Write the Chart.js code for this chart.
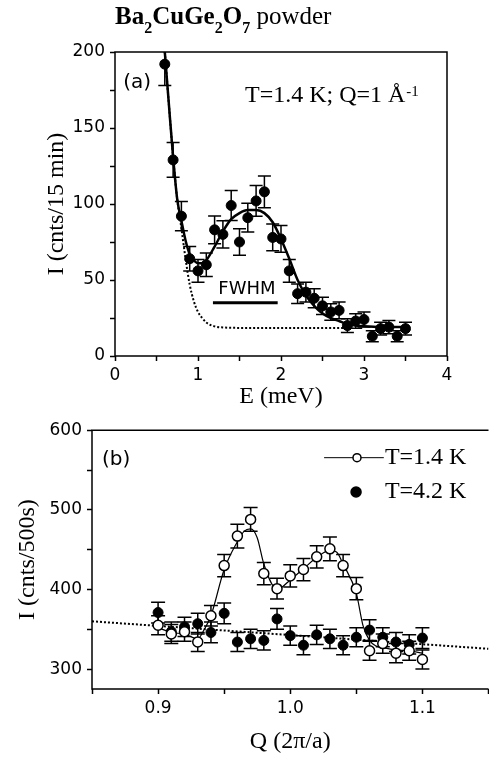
<!DOCTYPE html>
<html>
<head>
<meta charset="utf-8">
<script src="https://cdn.jsdelivr.net/npm/chart.js@4.4.1/dist/chart.umd.min.js"></script>
<style>
  html, body { margin: 0; padding: 0; background: #fff; overflow: hidden; }
  #page { position: relative; width: 489px; height: 758px; overflow: hidden; }
  #title { position: absolute; left: 115px; top: 4px; z-index: 2; white-space: nowrap;
           font: 25px "Liberation Serif", serif; line-height: 24px; }
  #title .s { font-size: 16px; position: relative; top: 9px; }
  #boxA { position: absolute; left: 0; top: 0; }
  #boxB { position: absolute; left: 0; top: 415px; }
</style>
</head>
<body>
<div id="page">
  <div id="title"><b>Ba<span class="s">2</span>CuGe<span class="s">2</span>O<span class="s">7</span></b> powder</div>
  <div id="boxA"><canvas id="chartA" width="489" height="415"></canvas></div>
  <div id="boxB"><canvas id="chartB" width="495" height="343"></canvas></div>
</div>
<script>
// ---- panel (a): energy scan at T=1.4 K, Q=1 1/A ----
const energy = [0.6, 0.7, 0.8, 0.9, 1.0, 1.1, 1.2, 1.3, 1.4, 1.5, 1.6, 1.7, 1.8, 1.9, 2.0,
                2.1, 2.2, 2.3, 2.4, 2.5, 2.6, 2.7, 2.8, 2.9, 3.0, 3.1, 3.2, 3.3, 3.4, 3.5];
const countsE = [192, 129, 92, 64, 56, 60, 83, 80, 99, 75, 91, 102, 108, 78, 77,
                 56, 41, 42, 38, 33, 29, 30, 20, 23, 24, 13, 18, 19, 13, 18];
const errE = [14, 11.4, 9.6, 8, 7.5, 7.7, 9.1, 8.9, 9.9, 8.7, 9.5, 10.1, 10.4, 8.8, 8.8,
              7.5, 6.4, 6.5, 6.2, 5.7, 5.4, 5.5, 4.5, 4.8, 4.9, 3.6, 4.2, 4.4, 3.6, 4.2];

// fitted curve and background
const fitE = [0.6, 0.65, 0.7, 0.75, 0.8, 0.85, 0.9, 0.95, 1.0, 1.05, 1.1, 1.2, 1.3, 1.4, 1.5, 1.6,
              1.7, 1.8, 1.9, 2.0, 2.1, 2.2, 2.3, 2.4, 2.5, 2.6, 2.7, 2.8, 2.9, 3.0, 3.2, 3.55];
const fitI = [200, 165, 131, 103, 89, 76, 67, 63, 61, 61, 63, 72, 82, 90, 94, 96,
              96, 94, 88, 77, 64, 50, 40, 33, 28, 25, 23, 21, 20, 19.5, 19, 19];
const bgE = [0.6, 0.65, 0.7, 0.75, 0.8, 0.85, 0.9, 0.95, 1.0, 1.05, 1.1, 1.2, 1.3, 1.5, 2.75];
const bgI = [200, 165, 131, 103, 84, 64, 47, 36, 29, 25, 22, 19.5, 18.8, 18.5, 18.5];
const fwhmE = [1.18, 1.96];
const fwhmI = [35, 35];

// ---- panel (b): Q scans ----
const qVals = [0.90, 0.91, 0.92, 0.93, 0.94, 0.95, 0.96, 0.97, 0.98, 0.99, 1.00,
               1.01, 1.02, 1.03, 1.04, 1.05, 1.06, 1.07, 1.08, 1.09, 1.10];
const counts14 = [355, 344, 347, 334, 367, 430, 467, 488, 420, 401, 417,
                  425, 441, 451, 430, 401, 323, 332, 320, 323, 312];
const err14 = [12, 12, 12, 12, 13, 14, 15, 15, 14, 13, 14, 14, 14, 15, 14, 14, 12, 12, 12, 12, 12];
const counts42 = [371, 347, 353, 357, 346, 370, 334, 338, 336, 363, 342,
                  330, 343, 338, 330, 340, 349, 340, 334, 331, 339];
const err42 = [13, 12, 12, 13, 13, 13, 12, 12, 12, 13, 12, 12, 12, 12, 12, 12, 13, 12, 12, 12, 13];

const fitQ = [0.90, 0.91, 0.92, 0.93, 0.935, 0.94, 0.95, 0.96, 0.965, 0.97, 0.975, 0.98, 0.99, 1.00,
              1.01, 1.02, 1.03, 1.035, 1.04, 1.05, 1.055, 1.06, 1.065, 1.07, 1.08, 1.09, 1.10];
const fit14 = [352, 346, 344, 338, 350, 367, 425, 460, 473, 476, 465, 432, 400, 412,
               426, 440, 449, 447, 432, 395, 355, 336, 329, 327, 324, 323, 320];
const bgQ = [0.85, 1.15];
const bgB = [360, 325.5];

const pts = (xs, ys) => xs.map((x, i) => ({ x: x, y: ys[i] }));

Chart.defaults.color = "#000";
Chart.defaults.font.family = "'DejaVu Sans', sans-serif";
Chart.defaults.font.size = 17;

const serif = "'Liberation Serif', serif";

// box around the plotting area (panel b is cut at the right edge)
const frame = {
  id: "frame",
  afterDraw(chart, args, opts) {
    const { ctx, chartArea: a } = chart;
    ctx.save();
    ctx.strokeStyle = "#000";
    ctx.lineWidth = 1.5;
    ctx.beginPath();
    ctx.moveTo(a.right, a.bottom);
    ctx.lineTo(a.left, a.bottom);
    ctx.lineTo(a.left, a.top);
    ctx.lineTo(a.right, a.top);
    if (opts.right !== false) ctx.lineTo(a.right, a.bottom);
    ctx.stroke();
    ctx.restore();
  }
};

// vertical error bars with caps
const errorBars = {
  id: "errorBars",
  beforeDatasetsDraw(chart, args, opts) {
    const { ctx, chartArea: a } = chart;
    const xs = chart.scales.x, ys = chart.scales.y;
    ctx.save();
    ctx.beginPath();
    ctx.rect(a.left, a.top, a.right - a.left, a.bottom - a.top);
    ctx.clip();
    ctx.strokeStyle = "#000";
    ctx.lineWidth = opts.width || 1.5;
    (opts.sets || []).forEach(s => {
      chart.data.datasets[s.dataset].data.forEach((p, i) => {
        const px = xs.getPixelForValue(p.x);
        const top = ys.getPixelForValue(p.y + s.err[i]);
        const bot = ys.getPixelForValue(p.y - s.err[i]);
        ctx.beginPath();
        ctx.moveTo(px, top); ctx.lineTo(px, bot);
        ctx.moveTo(px - s.cap, top); ctx.lineTo(px + s.cap, top);
        ctx.moveTo(px - s.cap, bot); ctx.lineTo(px + s.cap, bot);
        ctx.stroke();
      });
    });
    ctx.restore();
  }
};

// text labels and legend glyphs placed in data coordinates
const notes = {
  id: "notes",
  afterDatasetsDraw(chart, args, opts) {
    const { ctx } = chart;
    const xs = chart.scales.x, ys = chart.scales.y;
    ctx.save();
    ctx.fillStyle = "#000";
    ctx.strokeStyle = "#000";
    (opts.items || []).forEach(it => {
      const px = xs.getPixelForValue(it.x);
      const py = ys.getPixelForValue(it.y);
      if (it.text) {
        ctx.font = it.font;
        ctx.textAlign = it.align || "left";
        ctx.textBaseline = it.baseline || "middle";
        ctx.fillText(it.text, px, py);
        if (it.sup) {
          const w = ctx.measureText(it.text).width;
          ctx.font = it.supFont;
          ctx.textAlign = "left";
          ctx.fillText(it.sup, px + w + 1, py - it.supRaise);
        }
      } else if (it.line) {
        ctx.lineWidth = 1;
        ctx.beginPath();
        ctx.moveTo(px, py);
        ctx.lineTo(xs.getPixelForValue(it.x2), py);
        ctx.stroke();
      } else if (it.dot) {
        ctx.beginPath();
        ctx.arc(px, py, it.r, 0, Math.PI * 2);
        ctx.fillStyle = it.fill;
        ctx.fill();
        ctx.lineWidth = 1.5;
        ctx.stroke();
        ctx.fillStyle = "#000";
      }
    });
    ctx.restore();
  }
};

function axisOpts(extra) {
  return Object.assign({
    type: "linear",
    border: { display: false },
    grid: { drawOnChartArea: false, drawTicks: true, tickLength: 5, tickWidth: 1.5, tickColor: "#000" }
  }, extra);
}

new Chart(document.getElementById("chartA"), {
  type: "scatter",
  data: {
    datasets: [
      { data: pts(energy, countsE), backgroundColor: "#000", borderColor: "#000",
        pointRadius: 5, pointBorderWidth: 1, showLine: false },
      { data: pts(fitE, fitI), showLine: true, borderColor: "#000", borderWidth: 2.5,
        pointRadius: 0, cubicInterpolationMode: "monotone" },
      { data: pts(bgE, bgI), showLine: true, borderColor: "#000", borderWidth: 2,
        borderDash: [2, 2], pointRadius: 0, cubicInterpolationMode: "monotone" },
      { data: pts(fwhmE, fwhmI), showLine: true, borderColor: "#000", borderWidth: 3, pointRadius: 0 }
    ]
  },
  options: {
    responsive: false,
    animation: false,
    devicePixelRatio: 1,
    layout: { padding: { top: 52, right: 42, left: 0, bottom: 0 } },
    scales: {
      x: axisOpts({
        min: 0, max: 4,
        afterFit: s => { s.height = 59; },
        ticks: { stepSize: 0.5, autoSkip: false, maxRotation: 0, padding: 4,
                 callback: v => Number.isInteger(v) ? String(v) : "" },
        title: { display: true, text: "E (meV)", font: { family: serif, size: 24 },
                 padding: { top: 0, bottom: 3.6 } }
      }),
      y: axisOpts({
        min: 0, max: 200,
        afterFit: s => { s.width = 115; },
        ticks: { stepSize: 25, autoSkip: false, padding: 5,
                 callback: v => v % 50 === 0 ? String(v) : "" },
        title: { display: true, text: "I (cnts/15 min)", font: { family: serif, size: 24 },
                 padding: { top: 42.6, bottom: 0 } }
      })
    },
    plugins: {
      legend: { display: false },
      tooltip: { enabled: false },
      errorBars: { sets: [{ dataset: 0, err: errE, cap: 6.5 }] },
      notes: {
        items: [
          { x: 0.1, y: 180, text: "(a)", font: "20px 'DejaVu Sans'" },
          { x: 1.566, y: 167, text: "T=1.4 K; Q=1 Å", baseline: "alphabetic",
            font: "24px " + serif, sup: "-1", supFont: "15px " + serif, supRaise: 6 },
          { x: 1.59, y: 44, text: "FWHM", align: "center", font: "18px 'DejaVu Sans'" }
        ]
      }
    }
  },
  plugins: [frame, errorBars, notes]
});

new Chart(document.getElementById("chartB"), {
  type: "scatter",
  data: {
    datasets: [
      { data: pts(qVals, counts14), backgroundColor: "#fff", borderColor: "#000",
        pointRadius: 5, pointBorderWidth: 1.5, showLine: false },
      { data: pts(fitQ, fit14), showLine: true, borderColor: "#000", borderWidth: 1.2,
        pointRadius: 0, cubicInterpolationMode: "monotone" },
      { data: pts(qVals, counts42), backgroundColor: "#000", borderColor: "#000",
        pointRadius: 5, pointBorderWidth: 1, showLine: false },
      { data: pts(bgQ, bgB), showLine: true, borderColor: "#000", borderWidth: 2,
        borderDash: [2, 2], pointRadius: 0 }
    ]
  },
  options: {
    responsive: false,
    animation: false,
    devicePixelRatio: 1,
    layout: { padding: { top: 10, right: 5, left: 0, bottom: 0 } },
    scales: {
      x: axisOpts({
        min: 0.85, max: 1.15,
        afterFit: s => { s.height = 69; },
        ticks: { stepSize: 0.05, autoSkip: false, maxRotation: 0, padding: 4, includeBounds: false,
                 callback: v => Math.abs(v * 10 - Math.round(v * 10)) < 1e-6 ? v.toFixed(1) : "" },
        title: { display: true, text: "Q (2π/a)", font: { family: serif, size: 24 },
                 padding: { top: 0, bottom: 1.6 } }
      }),
      y: axisOpts({
        min: 275, max: 600,
        afterFit: s => { s.width = 92; },
        ticks: { stepSize: 50, autoSkip: false, padding: 5, includeBounds: false,
                 callback: v => v % 100 === 0 ? String(v) : "" },
        title: { display: true, text: "I (cnts/500s)", font: { family: serif, size: 24 },
                 padding: { top: 13.6, bottom: 0 } }
      })
    },
    plugins: {
      legend: { display: false },
      tooltip: { enabled: false },
      frame: { right: false },
      errorBars: { sets: [{ dataset: 2, err: err42, cap: 7 }, { dataset: 0, err: err14, cap: 7 }] },
      notes: {
        items: [
          { x: 0.8575, y: 563, text: "(b)", font: "20px 'DejaVu Sans'" },
          { x: 1.0256, y: 565.5, x2: 1.0708, line: true },
          { x: 1.0505, y: 565.5, dot: true, r: 4, fill: "#fff" },
          { x: 1.0716, y: 565.5, text: "T=1.4 K", font: "24px " + serif },
          { x: 1.0498, y: 522.4, dot: true, r: 5, fill: "#000" },
          { x: 1.0716, y: 522.4, text: "T=4.2 K", font: "24px " + serif }
        ]
      }
    }
  },
  plugins: [frame, errorBars, notes]
});
</script>
</body>
</html>
